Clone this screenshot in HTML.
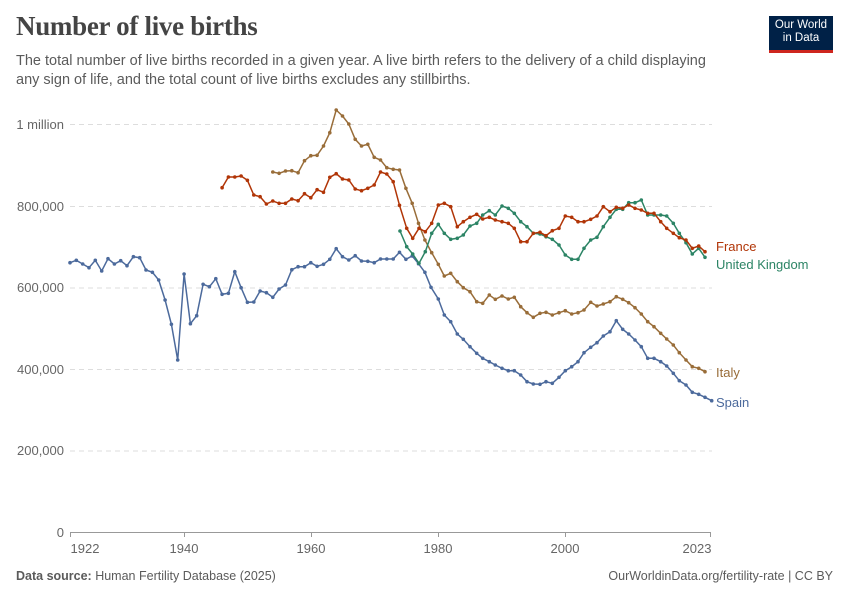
<!DOCTYPE html>
<html><head><meta charset="utf-8">
<style>
body{margin:0;background:#fff;width:850px;height:600px;overflow:hidden;font-family:"Liberation Sans",sans-serif;}
.t{position:absolute;left:16px;top:11px;font-family:"Liberation Serif",serif;font-weight:bold;font-size:27px;color:#444;letter-spacing:-0.3px}
.s{position:absolute;left:16px;top:52px;font-size:14.5px;line-height:19px;color:#5b5b5b;width:712px}
.logo{position:absolute;left:769px;top:16px;width:64px;background:#002147;border-bottom:3px solid #ce261e;color:#fff;font-size:11.5px;line-height:13px;text-align:center;padding-top:3px;height:31px}
.f{position:absolute;top:569px;font-size:12.5px;color:#5b5b5b}
</style></head><body>
<div class="t">Number of live births</div>
<div class="s">The total number of live births recorded in a given year. A live birth refers to the delivery of a child displaying any sign of life, and the total count of live births excludes any stillbirths.</div>
<div class="logo">Our World<br>in Data</div>
<div class="f" style="left:16px"><b>Data source:</b> Human Fertility Database (2025)</div>
<div class="f" style="right:17px">OurWorldinData.org/fertility-rate | CC BY</div>
<svg id="c" width="850" height="600" style="position:absolute;left:0;top:0" xmlns="http://www.w3.org/2000/svg">
<g font-family="Liberation Sans, sans-serif" font-size="13" fill="#666" text-anchor="end">
<text x="64" y="129">1 million</text><text x="64" y="211">800,000</text><text x="64" y="292">600,000</text><text x="64" y="374">400,000</text><text x="64" y="455">200,000</text><text x="64" y="537">0</text>
</g>
<g stroke="#ddd" stroke-dasharray="5,4" stroke-width="1">
<line x1="70" x2="712" y1="124.5" y2="124.5"/><line x1="70" x2="712" y1="206.5" y2="206.5"/><line x1="70" x2="712" y1="288" y2="288"/><line x1="70" x2="712" y1="369.5" y2="369.5"/><line x1="70" x2="712" y1="451" y2="451"/>
</g>
<line x1="70" x2="711" y1="532.5" y2="532.5" stroke="#999"/>
<g stroke="#999"><line x1="70.5" x2="70.5" y1="532" y2="537"/><line x1="184.5" x2="184.5" y1="532" y2="537"/><line x1="311.5" x2="311.5" y1="532" y2="537"/><line x1="438.5" x2="438.5" y1="532" y2="537"/><line x1="565.5" x2="565.5" y1="532" y2="537"/><line x1="710.5" x2="710.5" y1="532" y2="537"/></g>
<g font-family="Liberation Sans, sans-serif" font-size="13" fill="#666" text-anchor="middle">
<text x="85" y="553">1922</text><text x="184" y="553">1940</text><text x="311" y="553">1960</text><text x="438" y="553">1980</text><text x="565" y="553">2000</text><text x="697" y="553">2023</text>
</g>
<g font-family="Liberation Sans, sans-serif" font-size="13">
<text x="716" y="251" fill="#b13507">France</text>
<text x="716" y="269" fill="#2c8465">United Kingdom</text>
<text x="716" y="377" fill="#996d39">Italy</text>
<text x="716" y="407" fill="#4c6a9c">Spain</text>
</g>
<g id="g"></g>
</svg>
<script>
function X(y){return 70+(y-1922)*6.337;}
function z1(start,arr){return arr.map((v,i)=>[X(start+i),100+v/3]);}
function z2(arr){var r=[];for(var i=0;i<arr.length;i+=2)r.push([380+arr[i]/3,180+arr[i+1]/3]);return r;}
var spain=z1(1922,[488,481,492,503,481,513,476,492,482,497,470,473,510,517,540,600,673,780,522,671,647,553,560,536,583,580,515,563,607,606,573,578,592,567,555,509,500,500,488,499,493,478,446,470,480,467,483,484,488,477,477,477,457,478,468,491,517]).concat(z2([153,322,175,357,193,405,212,425,232,462,250,478,270,500,290,520,308,535,328,545,346,555,366,565,385,572,403,572,422,585,441,605,460,612,480,613,498,605,517,610,537,592,556,572,575,560,594,545,612,518,632,502,651,488,670,468,690,455,709,422,728,448,746,462,765,480,784,500,803,535,822,535,842,545,860,558,880,580,898,602,918,615,937,637,956,643,975,652,995,662]));
var italy=z1(1954,[216,220,213,212,218,182,167,166,138,98,30,48,72,118,138,133,172,180,203,208,210,265,310,370,420]).concat(z2([155,218,175,253,193,288,212,280,232,305,250,323,270,335,290,365,308,370,328,345,346,358,366,348,385,357,403,352,422,380,441,398,460,412,480,400,498,397,517,405,537,398,556,392,575,402,594,398,612,390,632,367,651,378,670,372,690,365,709,350,728,358,746,368,765,383,784,402,803,425,822,440,842,460,860,477,880,495,898,518,918,540,937,560,956,565,975,575]));
var france=z1(1946,[263,231,231,228,241,285,290,312,303,310,310,297,302,281,293,269,277,232,221,237,240,267,272,265,255,216,222,245,316]).concat(z2([80,145,98,175,117,145,136,155,155,130,175,75,193,70,212,80,232,140,250,125,270,112,290,103,308,117,328,112,346,120,366,125,385,130,403,145,422,185,441,185,460,160,480,157,498,167,517,152,537,145,556,108,575,112,594,125,612,125,632,118,651,108,670,80,690,95,709,82,728,85,746,75,765,85,784,90,803,100,822,100,842,125,860,145,880,160,898,173,918,180,937,205,956,198,975,215]));
var uk=z2([60,153,80,200,98,222,117,250,136,215,155,160,175,133,193,160,212,178,232,175,250,165,270,138,290,130,308,105,328,92,346,105,366,78,385,85,403,100,422,125,441,140,460,160,480,162,498,170,517,178,537,195,556,225,575,238,594,238,612,205,632,180,651,172,670,140,690,112,709,88,728,88,746,68,765,68,784,60,803,105,822,105,842,105,860,108,880,130,898,160,918,188,937,222,956,205,975,232]);
var g=document.getElementById('g'),h='';
[[spain,'#4c6a9c'],[italy,'#996d39'],[uk,'#2c8465'],[france,'#b13507']].forEach(function(s){
 h+='<polyline fill="none" stroke="'+s[1]+'" stroke-width="1.5" points="'+s[0].map(p=>p[0].toFixed(1)+','+p[1].toFixed(1)).join(' ')+'"/>';
 s[0].forEach(function(p){h+='<circle cx="'+p[0].toFixed(1)+'" cy="'+p[1].toFixed(1)+'" r="1.8" fill="'+s[1]+'"/>';});
});
g.innerHTML=h;
</script>
</body></html>
